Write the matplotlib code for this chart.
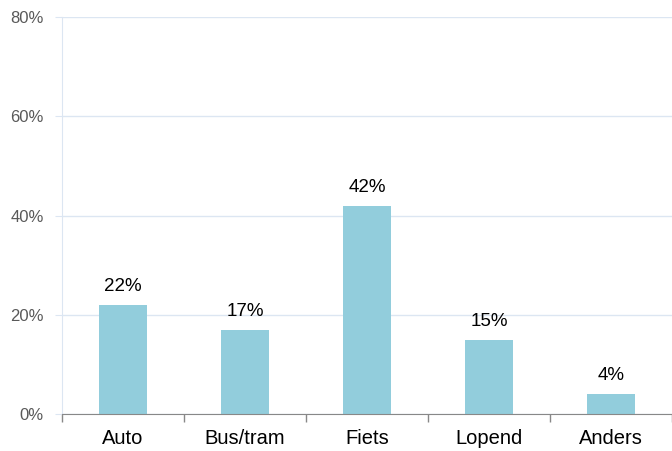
import numpy as np
import matplotlib.pyplot as plt
from matplotlib.ticker import FixedLocator, NullFormatter

categories = ["Auto", "Bus/tram", "Fiets", "Lopend", "Anders"]
values = [22, 17, 42, 15, 4]
yticks = [0, 20, 40, 60, 80]

plt.rcParams["font.family"] = ["Liberation Sans", "DejaVu Sans"]

fig = plt.figure(figsize=(6.72, 4.51), dpi=100)
ax = fig.add_axes([62 / 672, 37 / 451, 610 / 672, 397 / 451])

x = np.arange(len(categories))
ax.bar(x, values, width=0.4, color="#92CDDC", zorder=3)
for xi, v in zip(x, values):
    ax.text(xi, v + 2.8, f"{v}%", ha="center", va="baseline", fontsize=13.5, color="#000000")

ax.set_xlim(-0.5, len(categories) - 0.5)
ax.set_ylim(0, 80)
ax.set_yticks(yticks)
ax.set_yticklabels([f"{t}%" for t in yticks], fontsize=12, color="#595959")
ax.yaxis.grid(True, color="#DCE6F2", linewidth=1, zorder=0)

ax.set_xticks(x)
ax.set_xticklabels(categories, fontsize=14.5)
ax.tick_params(axis="x", length=0, pad=11)
ax.xaxis.set_minor_locator(FixedLocator(np.arange(-0.5, len(categories), 1.0)))
ax.xaxis.set_minor_formatter(NullFormatter())
ax.tick_params(axis="x", which="minor", length=6, color="#888888", width=1)
ax.tick_params(axis="y", length=5, color="#DCE6F2", pad=8)

for s in ["top", "right"]:
    ax.spines[s].set_visible(False)
ax.spines["left"].set_color("#DCE6F2")
ax.spines["bottom"].set_color("#888888")
ax.spines["bottom"].set_zorder(4)

fig.savefig("out.png", dpi=100)
